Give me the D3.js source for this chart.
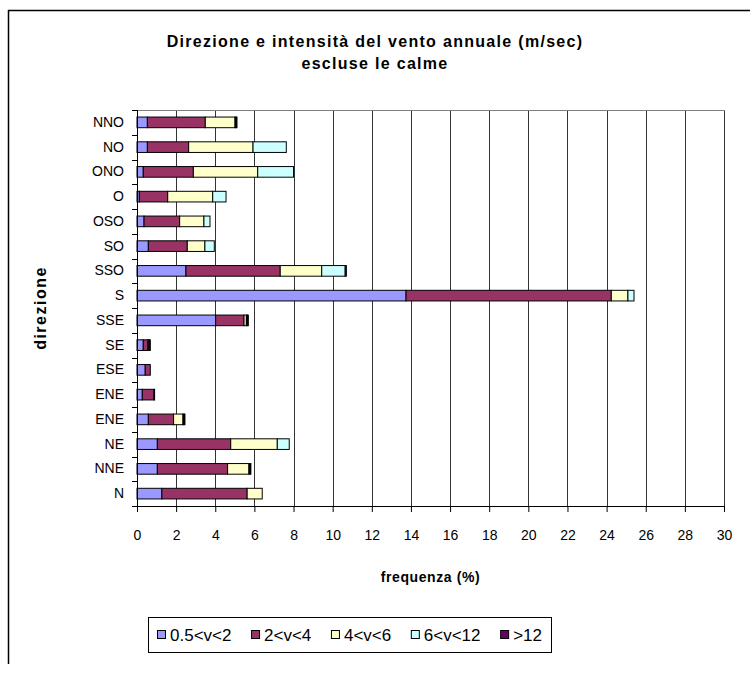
<!DOCTYPE html>
<html>
<head>
<meta charset="utf-8">
<script src="https://cdn.jsdelivr.net/npm/d3@7"></script>
<style>
  body { margin: 0; background: #fff; }
  svg text { font-family: "Liberation Sans", Arial, sans-serif; }
</style>
</head>
<body>
<div id="chart"></div>
<script>
// directions, top to bottom as in the picture
var direzioni = ["NNO", "NO", "ONO", "O", "OSO", "SO", "SSO", "S", "SSE", "SE", "ESE", "ENE", "ENE", "NE", "NNE", "N"];

var classi = ["0.5<v<2", "2<v<4", "4<v<6", "6<v<12", ">12"];
var colori = ["#9999FF", "#993366", "#FFFFCC", "#CCFFFF", "#660066"];

// frequenza (%) per classe di velocita
var v05_2  = [0.53, 0.53, 0.32, 0.12, 0.36, 0.58, 2.50, 13.75, 4.02, 0.32, 0.42, 0.27, 0.58, 1.04, 1.04, 1.27];
var v2_4   = [2.96, 2.11, 2.56, 1.45, 1.82, 1.99, 4.82, 10.49, 1.45, 0.23, 0.26, 0.60, 1.29, 3.75, 3.59, 4.36];
var v4_6   = [1.52, 3.29, 3.29, 2.30, 1.24, 0.90, 2.12, 0.85, 0.12, 0.05, 0.00, 0.00, 0.48, 2.38, 1.09, 0.77];
var v6_12  = [0.05, 1.70, 1.83, 0.68, 0.31, 0.48, 1.20, 0.31, 0.05, 0.03, 0.00, 0.00, 0.05, 0.61, 0.05, 0.00];
var v12    = [0.05, 0.00, 0.00, 0.00, 0.00, 0.00, 0.06, 0.00, 0.05, 0.05, 0.00, 0.03, 0.05, 0.00, 0.05, 0.00];

var xTicks = d3.range(0, 31, 2);

var W = 750, H = 678;
var svg = d3.select("#chart").append("svg")
    .attr("width", W)
    .attr("height", H);

// chart frame (cut on the right and bottom in the original)
svg.append("line").attr("x1", 8).attr("x2", W).attr("y1", 10.5).attr("y2", 10.5)
    .attr("stroke", "#000").attr("stroke-width", 1.5);
svg.append("line").attr("x1", 8.5).attr("x2", 8.5).attr("y1", 10).attr("y2", 664)
    .attr("stroke", "#000").attr("stroke-width", 1.5);

// title
svg.append("text").attr("x", 375).attr("y", 47).attr("text-anchor", "middle")
    .style("font-size", "16px").style("font-weight", "bold").style("letter-spacing", "1.3px")
    .text("Direzione e intensità del vento annuale (m/sec)");
svg.append("text").attr("x", 375).attr("y", 69).attr("text-anchor", "middle")
    .style("font-size", "16px").style("font-weight", "bold").style("letter-spacing", "1.3px")
    .text("escluse le calme");

var pLeft = 137, pRight = 724, pTop = 110, pBottom = 506;

var x = d3.scaleLinear().domain([0, 30]).range([pLeft, pRight]);
var y = d3.scaleBand().domain(d3.range(direzioni.length)).range([pTop, pBottom]).paddingInner(0.57).paddingOuter(0.285);

// data rows for the stack
var rows = direzioni.map(function(d, i) {
    return { i: i, "0.5<v<2": v05_2[i], "2<v<4": v2_4[i], "4<v<6": v4_6[i], "6<v<12": v6_12[i], ">12": v12[i] };
});
var series = d3.stack().keys(classi)(rows);

// gridlines
svg.append("g").selectAll("line").data(xTicks.slice(1)).join("line")
    .attr("x1", d => Math.round(x(d)) + 0.5).attr("x2", d => Math.round(x(d)) + 0.5)
    .attr("y1", pTop).attr("y2", pBottom)
    .attr("stroke", "#333").attr("stroke-width", 1);
svg.append("line").attr("x1", pLeft).attr("x2", pRight + 1).attr("y1", pTop + 0.5).attr("y2", pTop + 0.5)
    .attr("stroke", "#808080");

// bars
svg.append("g").selectAll("g").data(series).join("g")
    .attr("fill", (d, k) => colori[k])
    .selectAll("rect").data(d => d).join("rect")
    .attr("x", d => x(d[0]))
    .attr("width", d => Math.max(0, x(d[1]) - x(d[0])))
    .attr("y", d => y(d.data.i))
    .attr("height", y.bandwidth())
    .attr("stroke", "#000")
    .attr("stroke-width", d => d[1] - d[0] > 0 ? 1 : 0);

// x axis
var xAxis = svg.append("g").attr("transform", "translate(0," + pBottom + ")")
    .call(d3.axisBottom(x).tickValues(xTicks).tickSize(6).tickPadding(18).tickFormat(d3.format("d")));
xAxis.select(".domain").remove();
xAxis.selectAll("line").attr("stroke", "#000");
xAxis.selectAll("text").style("font-size", "14px").attr("fill", "#000");
svg.append("line").attr("x1", pLeft).attr("x2", pRight + 1).attr("y1", pBottom + 0.5).attr("y2", pBottom + 0.5)
    .attr("stroke", "#000");

// y axis
var yAxis = svg.append("g").attr("transform", "translate(" + pLeft + ",0)")
    .call(d3.axisLeft(y).tickSize(0).tickPadding(13).tickFormat(i => direzioni[i]));
yAxis.select(".domain").remove();
yAxis.selectAll("text").style("font-size", "14px").attr("fill", "#000");
svg.append("line").attr("x1", pLeft + 0.5).attr("x2", pLeft + 0.5).attr("y1", pTop).attr("y2", pBottom + 1)
    .attr("stroke", "#000");
var step = y.step();
svg.append("g").selectAll("line").data(d3.range(direzioni.length + 1)).join("line")
    .attr("x1", pLeft - 5).attr("x2", pLeft)
    .attr("y1", d => Math.round(pTop + d * step) + 0.5).attr("y2", d => Math.round(pTop + d * step) + 0.5)
    .attr("stroke", "#000");

// axis titles
svg.append("text").attr("x", (pLeft + pRight) / 2).attr("y", 582).attr("text-anchor", "middle")
    .style("font-size", "14px").style("font-weight", "bold").style("letter-spacing", "0.6px")
    .text("frequenza (%)");
svg.append("text").attr("transform", "translate(46," + ((pTop + pBottom) / 2) + ") rotate(-90)")
    .attr("text-anchor", "middle")
    .style("font-size", "16px").style("font-weight", "bold").style("letter-spacing", "1.5px")
    .text("direzione");

// legend: items laid out one after another, spread over the box
var boxX = 148, boxW = 403;
var leg = svg.append("g");
leg.append("rect").attr("x", boxX + 0.5).attr("y", 617.5).attr("width", boxW).attr("height", 35)
    .attr("fill", "#fff").attr("stroke", "#000");
var item = leg.selectAll("g.item").data(classi).join("g").attr("class", "item");
item.append("rect").attr("x", 0.5).attr("y", -4.5).attr("width", 8).attr("height", 8)
    .attr("fill", (d, k) => colori[k]).attr("stroke", "#000");
item.append("text").attr("x", 13).attr("y", 6)
    .style("font-size", "17px").text(d => d);
var widths = [];
item.select("text").each(function() { widths.push(13 + this.getComputedTextLength()); });
var margin = 9;
var gap = (boxW - 2 * margin - d3.sum(widths)) / (classi.length - 1);
var pos = boxX + margin;
item.attr("transform", function(d, k) {
    var t = "translate(" + pos + ",635)";
    pos += widths[k] + gap;
    return t;
});
</script>
</body>
</html>
